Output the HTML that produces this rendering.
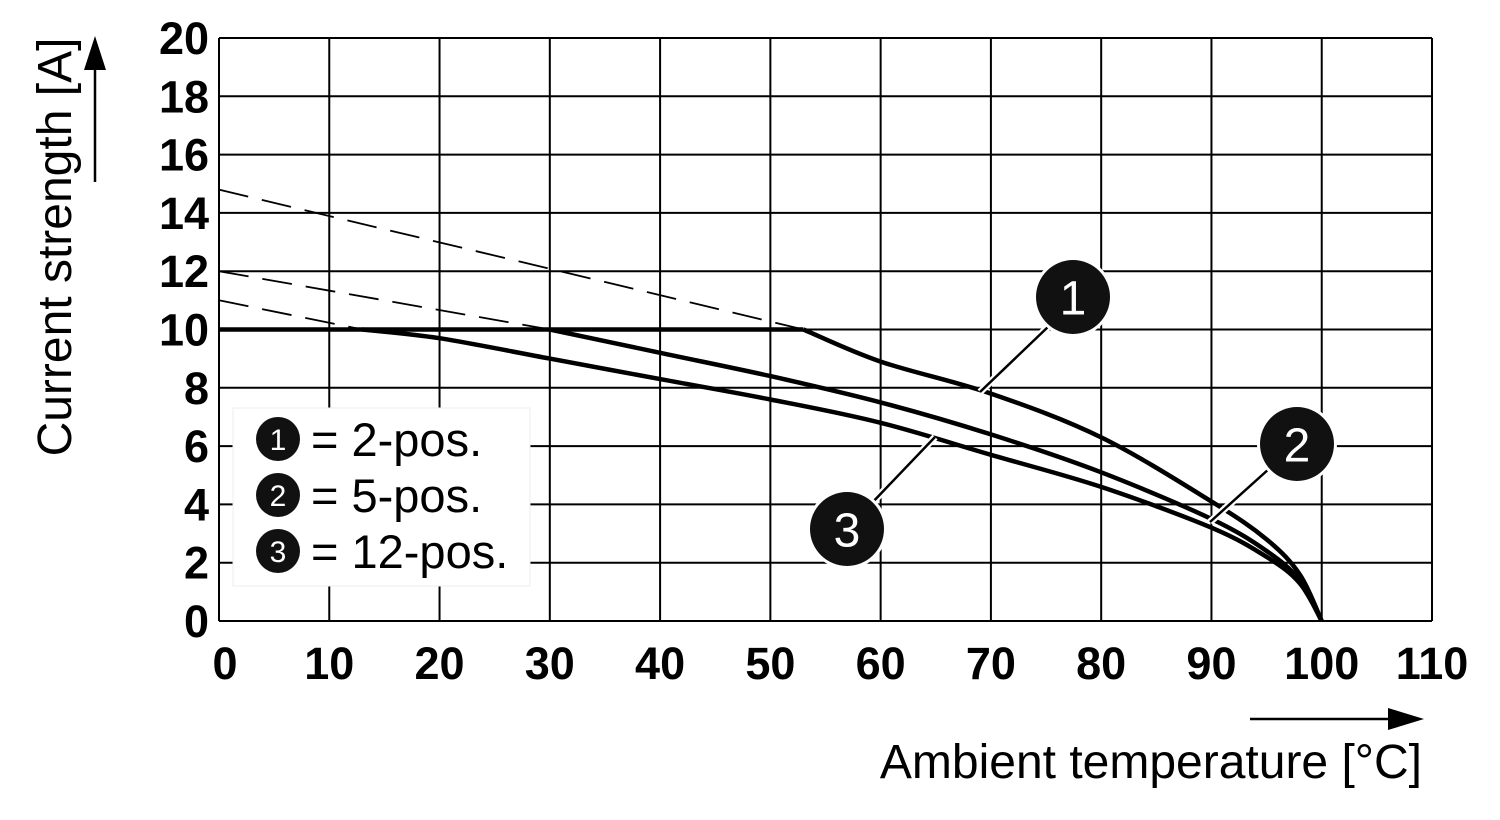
<!DOCTYPE html>
<html><head><meta charset="utf-8"><style>
html,body{margin:0;padding:0;background:#fff;width:1500px;height:820px;overflow:hidden}
svg{display:block;font-family:"Liberation Sans",Arial,sans-serif}
</style></head><body>
<svg id="chart" width="1500" height="820" viewBox="0 0 1500 820"></svg>
<script>
const xTicks=[0,10,20,30,40,50,60,70,80,90,100,110];
const yTicks=[0,2,4,6,8,10,12,14,16,18,20];
const flatT=[0,53];
const flatI=[10,10];
const s1T=[53,60,70,80,90,95,98,100];
const s1I=[10,8.9,7.8,6.3,4.1,2.8,1.6,0];
const s2T=[30,40,50,60,70,80,90,95,98,100];
const s2I=[10,9.2,8.4,7.5,6.4,5.1,3.5,2.4,1.4,0];
const s3T=[13,20,30,40,50,60,70,80,90,95,98,100];
const s3I=[10,9.7,9.0,8.3,7.6,6.8,5.7,4.6,3.2,2.2,1.3,0];
const d1T=[0,53]; const d1I=[14.8,10];
const d2T=[0,30]; const d2I=[12,10];
const d3T=[0,13]; const d3I=[11,10];
const legendLabels=["= 2-pos.","= 5-pos.","= 12-pos."];

const NS="http://www.w3.org/2000/svg";
const svg=document.getElementById('chart');
const X0=219,X1=1432,Y0=621,Y1=38;
const sx=v=>X0+(v-0)/(110-0)*(X1-X0);
const sy=v=>Y0-(v-0)/(20-0)*(Y0-Y1);
function mk(tag,attrs,parent){const e=document.createElementNS(NS,tag);for(const k in attrs)e.setAttribute(k,attrs[k]);(parent||svg).appendChild(e);return e;}

const grid=mk('g',{});


xTicks.forEach(t=>{
  const l=mk('line',{x1:sx(t),x2:sx(t),y1:Y1,y2:Y0,stroke:'#000','stroke-width':2},grid);
  
  
  const tx=mk('text',{x:sx(t)+(t===0?6:0),y:679,'text-anchor':'middle','font-size':45,'font-weight':'bold'});
  tx.textContent=t;
  
  
});
yTicks.forEach(t=>{
  const l=mk('line',{x1:X0,x2:X1,y1:sy(t),y2:sy(t),stroke:'#000','stroke-width':2},grid);
  
  
  const tx=mk('text',{x:209,y:sy(t)+16,'text-anchor':'end','font-size':45,'font-weight':'bold'});
  tx.textContent=t;
  
  
});

function line(T,I,name,dash,w){
  const d=T.map((t,i)=>(i?'L':'M')+sx(t).toFixed(1)+' '+sy(I[i]).toFixed(1)).join(' ');
  const p=mk('path',{d:d,fill:'none',stroke:'#000','stroke-width':w,'stroke-linejoin':'round'});
  if(dash)p.setAttribute('stroke-dasharray',dash);
  
  
}
function curve(T,I,name){
  const P=T.map((t,i)=>[sx(t),sy(I[i])]);
  let d='M'+P[0][0]+' '+P[0][1];
  for(let i=0;i<P.length-1;i++){
    const p0=P[i-1]||P[i],p1=P[i],p2=P[i+1],p3=P[i+2]||P[i+1];
    const c1=[p1[0]+(p2[0]-p0[0])/6,p1[1]+(p2[1]-p0[1])/6];
    const c2=[p2[0]-(p3[0]-p1[0])/6,p2[1]-(p3[1]-p1[1])/6];
    d+=` C${c1[0].toFixed(1)} ${c1[1].toFixed(1)} ${c2[0].toFixed(1)} ${c2[1].toFixed(1)} ${p2[0].toFixed(1)} ${p2[1].toFixed(1)}`;
  }
  const p=mk('path',{d:d,fill:'none',stroke:'#000','stroke-width':4.5,'stroke-linejoin':'round'});
  
  
}
line(d1T,d1I,'dashed-extension-2-pos','30 14',1.8);
line(d2T,d2I,'dashed-extension-5-pos','30 14',1.8);
line(d3T,d3I,'dashed-extension-12-pos','30 14',1.8);
line(flatT,flatI,'max-current-line',null,4.5);
curve(s1T,s1I,'curve-2-pos');
curve(s2T,s2I,'curve-5-pos');
curve(s3T,s3I,'curve-12-pos');

function badge(cx,cy,r,n,name,fs){
  const g=mk('g',{});
  
  
  mk('circle',{cx:cx,cy:cy,r:r+3,fill:'#fff'},g);
  mk('circle',{cx:cx,cy:cy,r:r,fill:'#111'},g);
  const t=mk('text',{x:cx,y:cy+fs*0.36,'text-anchor':'middle','font-size':fs,fill:'#fff'},g);
  t.textContent=n;
}
function leader(x1,y1,x2,y2,name){
  mk('line',{x1:x1,y1:y1,x2:x2,y2:y2,stroke:'#fff','stroke-width':7});
  const l=mk('line',{x1:x1,y1:y1,x2:x2,y2:y2,stroke:'#000','stroke-width':2.5});
  
  
}
leader(980,392,1050,325,'leader-1');
leader(1210,522,1270,468,'leader-2');
leader(935,437,870,505,'leader-3');
badge(1073,297,37,'1','callout-1',48);
badge(1297,444,37,'2','callout-2',48);
badge(847,529,37,'3','callout-3',48);

const lg=mk('g',{});


mk('rect',{x:233,y:408,width:297,height:178,fill:'#fff',stroke:'#eee','stroke-width':1},lg);
legendLabels.forEach((s,i)=>{
  const cy=439+i*56;
  badge(278,cy,22,String(i+1),'legend-badge-'+(i+1),30);
  const t=mk('text',{x:311,y:cy+17,'font-size':47},lg);
  t.textContent=s;
  
  
});

const yt=mk('text',{x:0,y:0,'font-size':48,'text-anchor':'middle',transform:'translate(71,247) rotate(-90)'});
yt.textContent='Current strength [A]';


const ya=mk('g',{});


mk('line',{x1:95,y1:182,x2:95,y2:60,stroke:'#000','stroke-width':2.5},ya);
mk('polygon',{points:'95,36 84,70 106,70',fill:'#000'},ya);

const xt=mk('text',{x:1422,y:778,'font-size':48,'text-anchor':'end'});
xt.textContent='Ambient temperature [°C]';


const xa=mk('g',{});


mk('line',{x1:1250,y1:719,x2:1395,y2:719,stroke:'#000','stroke-width':2.5},xa);
mk('polygon',{points:'1424,719 1388,708 1388,730',fill:'#000'},xa);
</script>
</body></html>
